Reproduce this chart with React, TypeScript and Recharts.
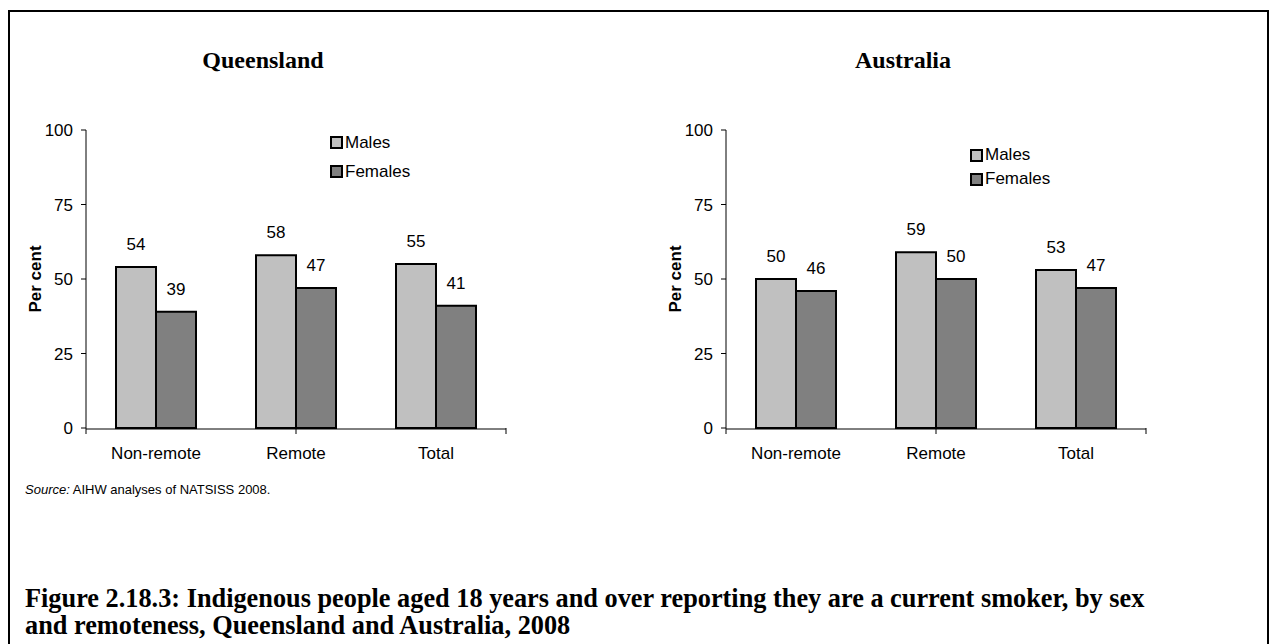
import { Bar, BarChart, LabelList, Legend, XAxis, YAxis } from "recharts";

const categories = ["Non-remote", "Remote", "Total"];
const seriesNames = ["Males", "Females"];
const qldMales = [54, 58, 55];
const qldFemales = [39, 47, 41];
const ausMales = [50, 59, 53];
const ausFemales = [46, 50, 47];
const yTicks = [0, 25, 50, 75, 100];
const boundaryTicks = [0, 1, 2, 3];

const ARIAL = "Liberation Sans, Arial, sans-serif";
const SERIF = "Liberation Serif, 'Book Antiqua', Palatino, serif";
const MALE = "#c0c0c0";
const FEMALE = "#808080";

type PanelProps = {
  title: string;
  males: number[];
  females: number[];
  left: number;
  legendTop: number;
  rowH: number;
};

function LegendBox({ payload, rowH }: { payload?: any[]; rowH: number }) {
  return (
    <div style={{ fontFamily: ARIAL, fontSize: 17, color: "#000" }}>
      {(payload ?? []).map((p) => (
        <div key={p.value} style={{ height: rowH, display: "flex", alignItems: "center" }}>
          <span
            style={{
              display: "inline-block", width: 9, height: 9, background: p.color,
              border: "2px solid #000", marginRight: 2,
            }}
          />
          {p.value}
        </div>
      ))}
    </div>
  );
}

function Panel({ title, males, females, left, legendTop, rowH }: PanelProps) {
  const data = categories.map((c, i) => ({ name: c, Males: males[i], Females: females[i] }));
  return (
    <div style={{ position: "absolute", left, top: 0, width: 530, height: 480 }}>
      <div
        style={{
          position: "absolute", left: 143, width: 240, top: 46, textAlign: "center",
          fontFamily: SERIF, fontWeight: "bold", fontSize: 24, lineHeight: "28px",
        }}
      >
        {title}
      </div>
      <div style={{ position: "absolute", left: 0, top: 100 }}>
        <BarChart
          width={520}
          height={370}
          data={data}
          margin={{ top: 30, right: 14, bottom: 11, left: 26 }}
          barGap={0}
          barSize={40}
        >
          <XAxis
            xAxisId="bounds"
            type="number"
            domain={[0, 3]}
            allowDataOverflow
            ticks={boundaryTicks}
            interval={0}
            height={1}
            axisLine={false}
            tickFormatter={() => ""}
            tickSize={6}
            tickLine={{ stroke: "#000", strokeWidth: 1 }}
          />
          <XAxis
            xAxisId="cat"
            dataKey="name"
            height={30}
            axisLine={{ stroke: "#000", strokeWidth: 1 }}
            tickLine={false}
            tickMargin={12}
            tick={{ fill: "#000", fontSize: 17, fontFamily: ARIAL }}
          />
          <YAxis
            domain={[0, 100]}
            ticks={yTicks}
            width={60}
            axisLine={{ stroke: "#000", strokeWidth: 1 }}
            tickLine={{ stroke: "#000", strokeWidth: 1 }}
            tickSize={5}
            tickMargin={8}
            tick={{ fill: "#000", fontSize: 17, fontFamily: ARIAL }}
            label={{
              value: "Per cent", angle: -90, position: "insideLeft", offset: 9,
              style: { textAnchor: "middle", fontWeight: "bold", fontSize: 17, fontFamily: ARIAL, fill: "#000" },
            }}
          />
          <Legend
            layout="vertical"
            align="center"
            verticalAlign="middle"
            itemSorter={(item: any) => seriesNames.indexOf(item.value)}
            wrapperStyle={{ left: 330, top: legendTop, width: "auto" }}
            content={(props: any) => <LegendBox payload={props.payload} rowH={rowH} />}
          />
          <Bar dataKey="Males" xAxisId="cat" fill={MALE} stroke="#000" strokeWidth={2} isAnimationActive={false}>
            <LabelList dataKey="Males" position="top" offset={17} fill="#000" fontSize={17} fontFamily={ARIAL} />
          </Bar>
          <Bar dataKey="Females" xAxisId="cat" fill={FEMALE} stroke="#000" strokeWidth={2} isAnimationActive={false}>
            <LabelList dataKey="Females" position="top" offset={17} fill="#000" fontSize={17} fontFamily={ARIAL} />
          </Bar>
        </BarChart>
      </div>
    </div>
  );
}

export default function App() {
  return (
    <div style={{ position: "absolute", left: 0, top: 0, width: 1271, height: 644, background: "#fff", overflow: "hidden" }}>
      <div
        style={{
          position: "absolute", left: 8, top: 10, width: 1261, height: 660,
          border: "2px solid #000", boxSizing: "border-box",
        }}
      />
      <Panel title="Queensland" males={qldMales} females={qldFemales} left={0} legendTop={28} rowH={29} />
      <Panel title="Australia" males={ausMales} females={ausFemales} left={640} legendTop={43} rowH={24} />
      <div style={{ position: "absolute", left: 25, top: 482, fontFamily: ARIAL, fontSize: 13 }}>
        <i>Source:</i> AIHW analyses of NATSISS 2008.
      </div>
      <div
        style={{
          position: "absolute", left: 25, top: 585, fontFamily: SERIF, fontWeight: "bold",
          fontSize: 26.3, lineHeight: "27px", whiteSpace: "nowrap",
        }}
      >
        <div>Figure 2.18.3: Indigenous people aged 18 years and over reporting they are a current smoker, by sex</div>
        <div>and remoteness, Queensland and Australia, 2008</div>
      </div>
    </div>
  );
}
